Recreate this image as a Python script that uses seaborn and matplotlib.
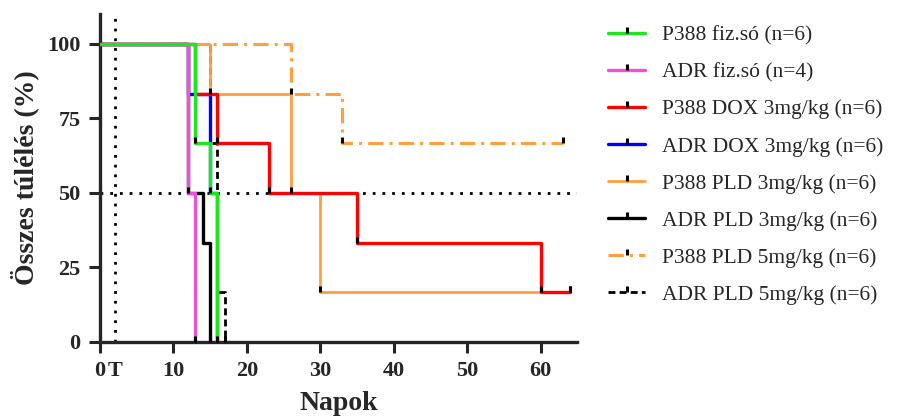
import numpy as np
import pandas as pd
import matplotlib
matplotlib.use("Agg")
import matplotlib.pyplot as plt
from matplotlib.lines import Line2D
import seaborn as sns

# Kaplan-Meier steps (day of event, survival % after it)
labels = [
    "P388 fiz.só (n=6)",
    "ADR fiz.só (n=4)",
    "P388 DOX 3mg/kg (n=6)",
    "ADR DOX 3mg/kg (n=6)",
    "P388 PLD 3mg/kg (n=6)",
    "ADR PLD 3mg/kg (n=6)",
    "P388 PLD 5mg/kg (n=6)",
    "ADR PLD 5mg/kg (n=6)",
]
days_p388_fiz = [0, 13, 15, 16]
surv_p388_fiz = [100, 66.7, 50, 0]
days_adr_fiz = [0, 12, 13]
surv_adr_fiz = [100, 50, 0]
days_p388_dox3 = [0, 13, 16, 23, 35, 60, 64]
surv_p388_dox3 = [100, 83.3, 66.7, 50, 33.3, 16.7, 16.7]
days_adr_dox3 = [0, 12, 15, 16]
surv_adr_dox3 = [100, 83.3, 50, 0]
days_p388_pld3 = [0, 15, 26, 30, 64]
surv_p388_pld3 = [100, 83.3, 50, 16.7, 16.7]
days_adr_pld3 = [0, 12, 14, 15]
surv_adr_pld3 = [100, 50, 33.3, 0]
days_p388_pld5 = [0, 26, 33, 63]
surv_p388_pld5 = [100, 83.3, 66.7, 66.7]
days_adr_pld5 = [0, 15, 16, 17]
surv_adr_pld5 = [100, 66.7, 16.7, 0]

# days carrying a tick mark on each curve
marks_p388_fiz = [13, 15, 16]
marks_adr_fiz = [12, 13]
marks_p388_dox3 = [16, 23, 35, 60, 64]
marks_adr_dox3 = []
marks_p388_pld3 = [15, 26, 30, 64]
marks_adr_pld3 = [15]
marks_p388_pld5 = [26, 33, 63]
marks_adr_pld5 = [17]

all_days = [days_p388_fiz, days_adr_fiz, days_p388_dox3, days_adr_dox3,
            days_p388_pld3, days_adr_pld3, days_p388_pld5, days_adr_pld5]
all_surv = [surv_p388_fiz, surv_adr_fiz, surv_p388_dox3, surv_adr_dox3,
            surv_p388_pld3, surv_adr_pld3, surv_p388_pld5, surv_adr_pld5]
all_marks = [marks_p388_fiz, marks_adr_fiz, marks_p388_dox3, marks_adr_dox3,
             marks_p388_pld3, marks_adr_pld3, marks_p388_pld5, marks_adr_pld5]

colors = ["#1ee61e", "#f050d8", "#ff0000", "#0000ff",
          "#ff9f40", "#000000", "#ff9f40", "#000000"]
styles = ["-", "-", "-", "-", "-", "-", (0, (5, 2, 1, 2)), (0, (2.5, 1.5))]
widths = [2.4, 2.4, 2.4, 2.4, 2.0, 2.4, 2.2, 2.0]

xticks = [0, 10, 20, 30, 40, 50, 60]
yticks = [0, 25, 50, 75, 100]

sns.set_theme(style="ticks")
plt.rcParams["font.family"] = ["Liberation Serif", "DejaVu Serif"]

fig = plt.figure(figsize=(8.97, 4.16), dpi=100)
ax = fig.add_axes([0.1115, 0.178, 0.532, 0.788])

tick = [(0, 0), (0, 1)]

# reference lines: median and treatment day
ax.axhline(50, color="black", ls=(0, (1, 2.5)), lw=2, zorder=1)
ax.axvline(2, color="black", ls=(0, (1, 2.5)), lw=2, zorder=1)

# draw in reverse so first group ends up on top (like Prism)
for i in reversed(range(len(labels))):
    df = pd.DataFrame({"day": all_days[i], "surv": all_surv[i]})
    sns.lineplot(data=df, x="day", y="surv", drawstyle="steps-post",
                 estimator=None, sort=False, color=colors[i],
                 linestyle=styles[i], lw=widths[i], ax=ax, zorder=2 + (8 - i))
    if all_marks[i]:
        idx = np.searchsorted(all_days[i], all_marks[i], side="right") - 1
        ax.plot(all_marks[i], np.array(all_surv[i])[idx], ls="none",
                marker=tick, ms=9, mec="black", mew=2.2, zorder=20)

handles = [Line2D([], [], color=c, ls=s, lw=w, marker=tick, ms=9,
                  mec="black", mew=2.2)
           for c, s, w in zip(colors, styles, widths)]
fig.legend(handles, labels, loc="upper left", bbox_to_anchor=(0.668, 0.96),
           frameon=False, fontsize=15.5, handlelength=1.75, handletextpad=0.75,
           labelspacing=0.79, numpoints=1, borderaxespad=0)

ax.set_xlim(0, 65)
ax.set_ylim(0, 110)
ax.set_xticks(xticks)
ax.set_xticklabels([str(t) for t in xticks])
ax.set_xticks([2], minor=True)
ax.set_xticklabels(["T"], minor=True)
ax.set_yticks(yticks)
ax.tick_params(axis="both", which="major", length=8, width=2.2,
               labelsize=16, direction="out", pad=6)
ax.tick_params(axis="x", which="minor", length=0, labelsize=16, pad=14)
for lab in ax.get_xticklabels() + ax.get_yticklabels() + \
        ax.get_xticklabels(minor=True):
    lab.set_fontweight("bold")

ax.set_xlabel("Napok", fontsize=20, fontweight="bold", labelpad=7)
ax.set_ylabel("Összes túlélés (%)", fontsize=20, fontweight="bold", labelpad=6)

sns.despine(ax=ax)
for sp in ["left", "bottom"]:
    ax.spines[sp].set_linewidth(2.4)
ax.grid(False)

fig.savefig("out.png", dpi=100)
